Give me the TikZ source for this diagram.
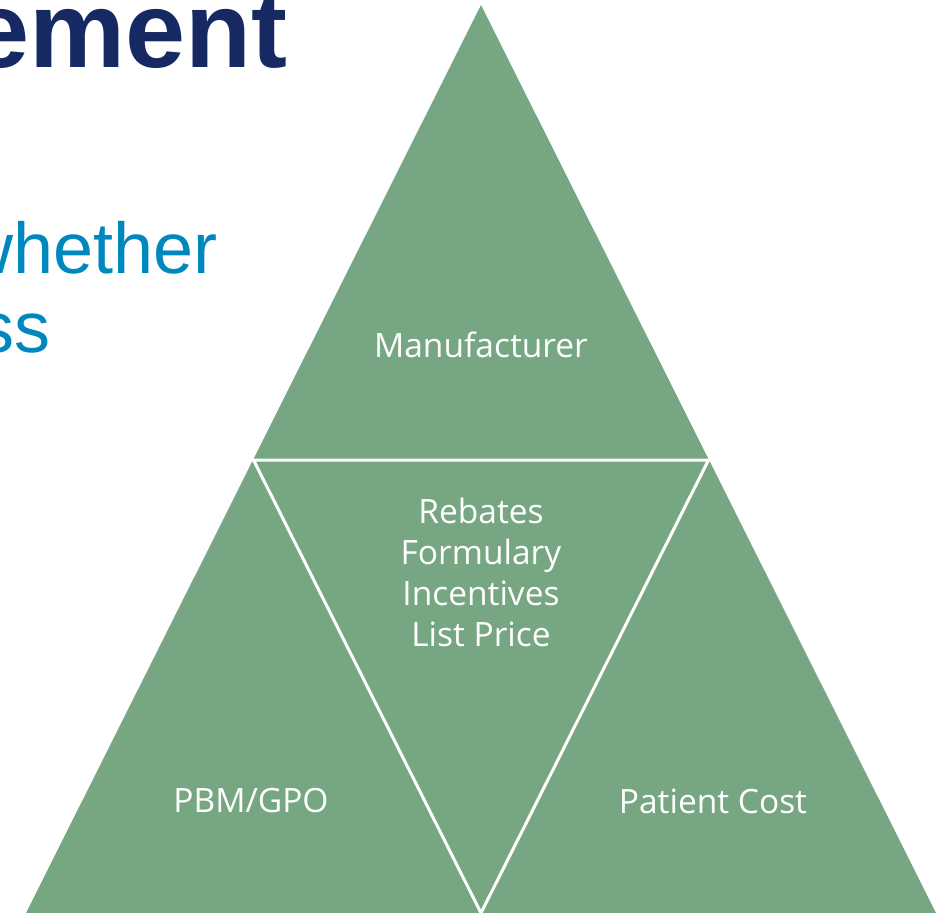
\documentclass[tikz,border=0pt]{standalone}
\usepackage{fontspec}
\setmainfont{Liberation Sans}
\newfontfamily\tagfont{Open Sans}
\usetikzlibrary{positioning}

\definecolor{sage}{HTML}{77A782}
\definecolor{navy}{HTML}{172963}
\definecolor{sky}{HTML}{0087BD}

\tikzset{
  block/.style = {
    fill = sage,
    draw = none
  },
  split/.style = {
    draw = white,
    line width = 3pt,
    line join = miter
  },
  tag/.style = {
    text = white,
    font = \tagfont\fontsize{33.5}{41}\selectfont,
    align = center,
    inner sep = 0pt
  },
  heading/.style = {
    text = navy,
    font = \fontsize{108}{108}\selectfont\bfseries,
    inner sep = 0pt,
    anchor = base east
  },
  lead/.style = {
    text = sky,
    font = \fontsize{72}{79}\selectfont,
    inner sep = 0pt,
    anchor = base east
  },
}

\begin{document}
\begin{tikzpicture}[x=1pt, y=-1pt]
  \useasboundingbox (0,0) rectangle (946,913);
  \clip (0,0) rectangle (946,913);

  % corners of the pyramid
  \coordinate (top) at (481,5);
  \coordinate (bl) at (26,913);
  \coordinate (br) at (936,913);
  \coordinate (ml) at (253.5,460);
  \coordinate (mr) at (708.5,460);
  \coordinate (bm) at (481,913);

  % slide text behind the pyramid
  \node[heading] (title) at (288,67) {ement};
  \node[lead] (line1) at (218,273) {whether};
  \node[lead] (line2) at (51,352) {ss};

  % pyramid and the inner split
  \fill[block] (top) -- (bl) -- (br) -- cycle;
  \draw[split] (ml) -- (mr) -- (bm) -- cycle;

  \node[tag] (manuf) at (481,345) {Manufacturer};
  \node[tag] (levers) at (481,572) {Rebates\\Formulary\\Incentives\\List Price};
  \node[tag] (pbm) at (251,801) {PBM/GPO};
  \node[tag] (patient) at (713,801) {Patient Cost};
\end{tikzpicture}
\end{document}
